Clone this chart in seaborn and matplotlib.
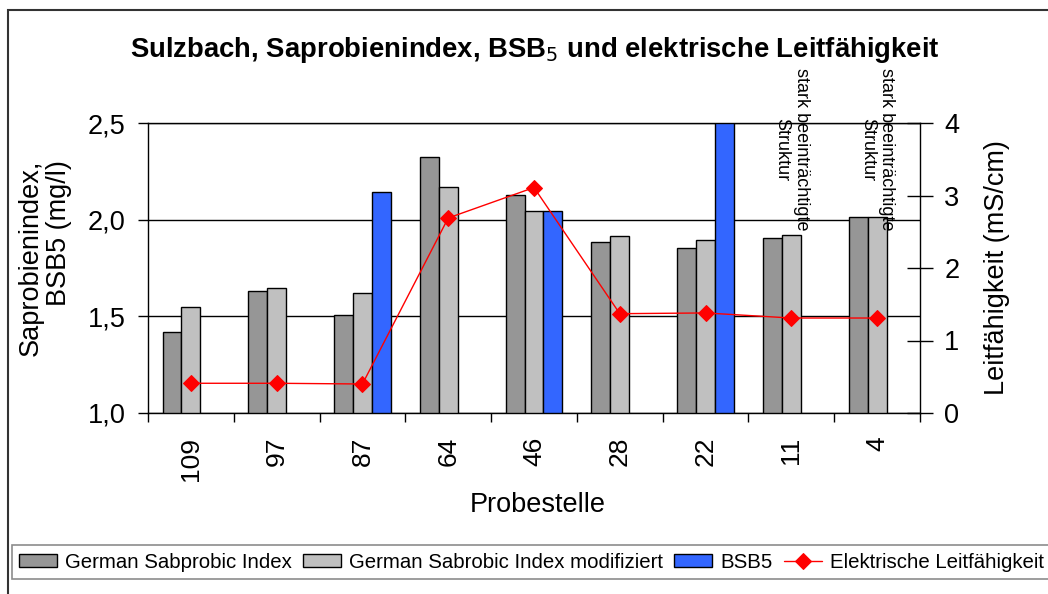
import numpy as np
import pandas as pd
import matplotlib
matplotlib.use("Agg")
import matplotlib.pyplot as plt
from matplotlib.patches import Rectangle
import seaborn as sns

# Sampling sites along the Sulzbach (upstream -> downstream)
sites = ["109", "97", "87", "64", "46", "28", "22", "11", "4"]

# Saprobic index (left axis) and BSB5 in mg/l (left axis)
saprobic_index = [1.42, 1.63, 1.505, 2.325, 2.125, 1.885, 1.855, 1.905, 2.015]
saprobic_index_mod = [1.55, 1.645, 1.62, 2.17, 2.045, 1.915, 1.895, 1.922, 2.015]
bsb5 = [np.nan, np.nan, 2.145, np.nan, 2.045, np.nan, 2.6, np.nan, np.nan]

# Electrical conductivity in mS/cm (right axis)
conductivity = [0.41, 0.41, 0.40, 2.69, 3.11, 1.37, 1.38, 1.31, 1.31]

# Sites with strongly impaired structure
impaired_sites = ["11", "4"]
impaired_text = "stark beeinträchtigte\nStruktur"

series_names = ["German Sabprobic Index", "German Sabrobic Index modifiziert", "BSB5"]
series_colors = ["#969696", "#c0c0c0", "#3366ff"]
line_name = "Elektrische Leitfähigkeit"

df = pd.DataFrame({
    "Probestelle": sites * 3,
    "Serie": [series_names[0]] * len(sites) + [series_names[1]] * len(sites) + [series_names[2]] * len(sites),
    "Wert": saprobic_index + saprobic_index_mod + bsb5,
})

sns.set_style("white")
plt.rcParams["font.family"] = ["Liberation Sans", "DejaVu Sans"]
plt.rcParams["text.color"] = "black"
plt.rcParams["axes.labelcolor"] = "black"
plt.rcParams["xtick.color"] = "black"
plt.rcParams["ytick.color"] = "black"

fig = plt.figure(figsize=(10.48, 5.94), dpi=100)
ax = fig.add_axes([148 / 1048, 1 - 413 / 594, (920 - 148) / 1048, (413 - 123) / 594])

sns.barplot(data=df, x="Probestelle", y="Wert", hue="Serie", order=sites,
            hue_order=series_names, palette=series_colors, width=0.66,
            errorbar=None, edgecolor="black", linewidth=1, saturation=1,
            ax=ax)
ax.get_legend().remove()

ax.set_ylim(1.0, 2.5)
ax.set_xlim(-0.5, len(sites) - 0.5)
ax.set_yticks([1.0, 1.5, 2.0, 2.5])
ax.set_yticklabels(["1,0", "1,5", "2,0", "2,5"])
ax.yaxis.grid(True, color="black", linewidth=1)
ax.set_axisbelow(True)
ax.set_xlabel("")
ax.set_ylabel("")

ax.set_xticks(np.arange(len(sites)))
ax.set_xticklabels(sites, rotation=90)
ax.set_xticks(np.arange(-0.5, len(sites), 1), minor=True)
ax.tick_params(axis="x", which="major", length=0, pad=17, labelsize=19,
               labelcolor="black")
ax.tick_params(axis="x", which="minor", length=6.5, width=1, direction="out",
               color="black", bottom=True)
ax.tick_params(axis="y", which="major", length=7, width=1, direction="out",
               color="black", pad=9, labelsize=19.5, left=True,
               labelcolor="black")

for side in ["left", "bottom", "top"]:
    ax.spines[side].set_visible(True)
    ax.spines[side].set_color("black")
    ax.spines[side].set_linewidth(1)
ax.spines["right"].set_visible(False)

# Conductivity on the secondary axis
ax2 = ax.twinx()
sns.lineplot(x=np.arange(len(sites)), y=conductivity, ax=ax2, color="red",
             linewidth=1, marker="D", markersize=8, markeredgecolor="red",
             sort=False, label=line_name)
ax2.get_legend().remove()
ax2.set_ylim(0, 4)
ax2.set_yticks([0, 1, 2, 3, 4])
ax2.tick_params(axis="y", which="major", length=19, width=1, direction="inout",
                color="black", pad=8, labelsize=19.5, right=True,
                labelcolor="black")
for side in ["left", "bottom", "top"]:
    ax2.spines[side].set_visible(False)
ax2.spines["right"].set_visible(True)
ax2.spines["right"].set_color("black")
ax2.spines["right"].set_linewidth(1)
ax2.set_ylabel("")

# Annotations for impaired structure
for s in impaired_sites:
    ax.text(sites.index(s), 2.365, impaired_text, rotation=270, ha="center",
            va="center", multialignment="center", fontsize=13, clip_on=False,
            color="black")

# Titles and axis labels
fig.text(535 / 1048, 1 - 50 / 594, "Sulzbach, Saprobienindex, BSB$_5$ und elektrische Leitfähigkeit",
         ha="center", va="center", fontsize=19.8, fontweight="bold", color="black")
fig.text(45 / 1048, 1 - 258 / 594, "Saprobienindex,\nBSB5 (mg/l)", rotation=90,
         ha="center", va="center", multialignment="right", fontsize=19.5,
         linespacing=1.1, color="black")
fig.text(997 / 1048, 1 - 268 / 594, "Leitfähigkeit (mS/cm)", rotation=90,
         ha="center", va="center", fontsize=19.5, color="black")
fig.text(538 / 1048, 1 - 505 / 594, "Probestelle", ha="center", va="center",
         fontsize=19.5, color="black")

# Legend across the bottom
h1, l1 = ax.get_legend_handles_labels()
h2, l2 = ax2.get_legend_handles_labels()
leg = fig.legend(h1 + h2, l1 + l2, loc="center left",
                 bbox_to_anchor=(12 / 1048, 1 - 562 / 594), ncol=4,
                 fontsize=14.7, frameon=True, fancybox=False, shadow=False,
                 handlelength=1.85, handleheight=0.6, handletextpad=0.4,
                 columnspacing=0.55, borderpad=0.35, borderaxespad=0)
leg.get_frame().set_edgecolor("#707070")
leg.get_frame().set_linewidth(1.2)
for t in leg.get_texts():
    t.set_color("black")

# Outer chart border
fig.patches.append(Rectangle((8 / 1048, -0.2), 1.2, 1.2 - 10 / 594, transform=fig.transFigure,
                             fill=False, edgecolor="#333333", linewidth=1.5))

fig.savefig("out.png", dpi=100)
